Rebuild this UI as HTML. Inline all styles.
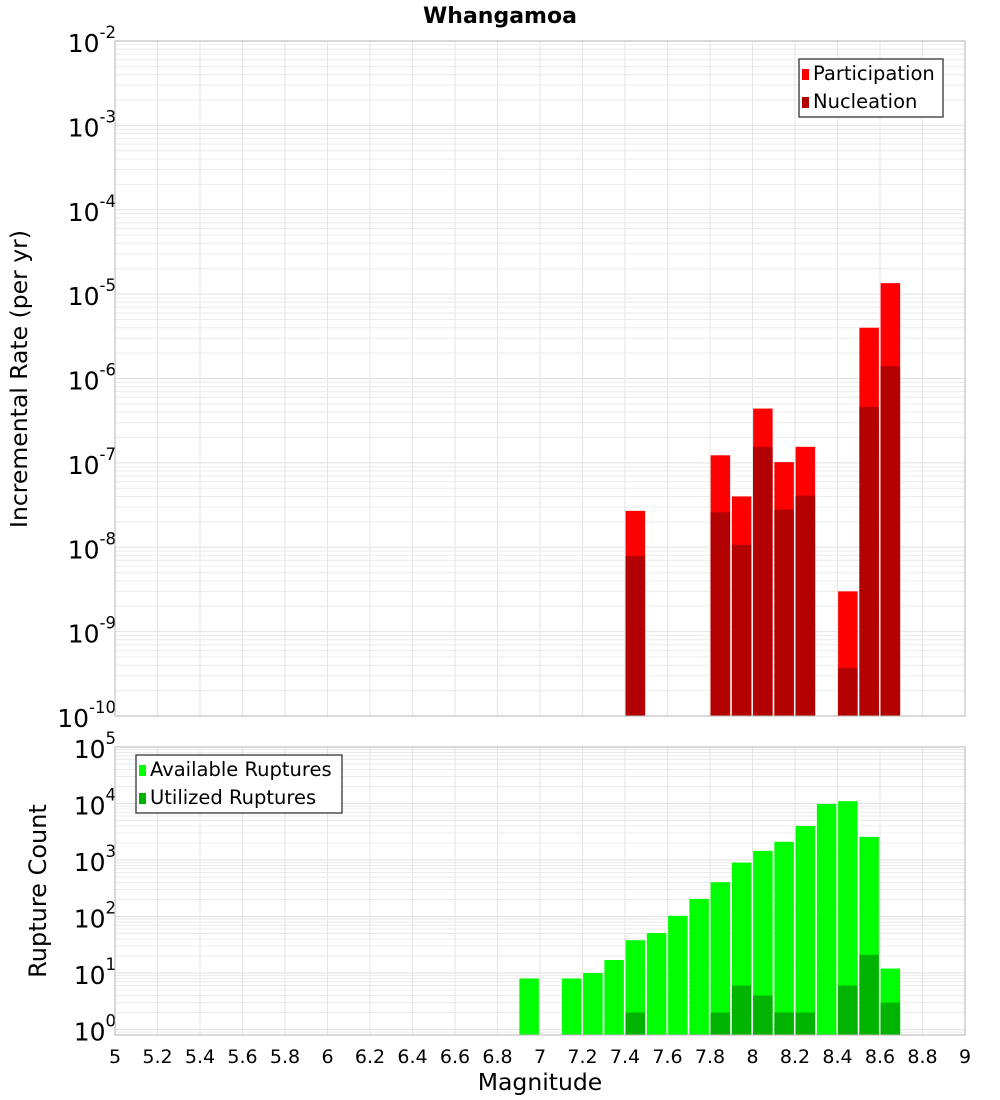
<!DOCTYPE html>
<html><head><meta charset="utf-8"><style>
body{margin:0;background:#fff;}
svg{display:block;font-family:"DejaVu Sans","Liberation Sans",sans-serif;}
</style></head><body>
<svg id="chart" width="1000" height="1100" xmlns="http://www.w3.org/2000/svg">
<text x="500" y="23" text-anchor="middle" font-size="22" font-weight="bold">Whangamoa</text>
<g id="gtop"></g><g id="gbot"></g>
<text transform="translate(27,379) rotate(-90)" text-anchor="middle" font-size="23.5">Incremental Rate (per yr)</text>
<text transform="translate(46,891) rotate(-90)" text-anchor="middle" font-size="24">Rupture Count</text>
<text x="540" y="1090" text-anchor="middle" font-size="23.5">Magnitude</text>
</svg>
<script>
const mags = [6.95,7.15,7.25,7.35,7.45,7.55,7.65,7.75,7.85,7.95,8.05,8.15,8.25,8.35,8.45,8.55,8.65];
const available = [8,8,10,17,38,51,103,205,405,900,1450,2100,4000,9800,11000,2570,12];
const utilized = [0,0,0,0,2,0,0,0,2,6,4,2,2,0,6,21,3];
const rateMags = [7.45,7.85,7.95,8.05,8.15,8.25,8.45,8.55,8.65];
const participation = [2.7e-8,1.23e-7,4e-8,4.4e-7,1.02e-7,1.55e-7,3e-9,4e-6,1.35e-5];
const nucleation = [7.9e-9,2.6e-8,1.07e-8,1.55e-7,2.8e-8,4.1e-8,3.7e-10,4.6e-7,1.4e-6];
const xTicks = [5,5.2,5.4,5.6,5.8,6,6.2,6.4,6.6,6.8,7,7.2,7.4,7.6,7.8,8,8.2,8.4,8.6,8.8,9];

const NS="http://www.w3.org/2000/svg";
const X0=115,X1=965;
const xs=m=>X0+(m-5)/4*(X1-X0);
function mk(p,t,a,txt){const e=document.createElementNS(NS,t);for(const k in a)e.setAttribute(k,a[k]);if(txt!==undefined)e.textContent=txt;p.appendChild(e);return e;}
function panel(g,y0,y1,lmin,lmax,name){
  const ys=v=>y1-(Math.log10(v)-lmin)/(lmax-lmin)*(y1-y0);
  for(let d=Math.floor(lmin);d<lmax;d++)for(let k=1;k<10;k++){const v=k*Math.pow(10,d);if(Math.log10(v)<lmin||Math.log10(v)>lmax)continue;const y=ys(v);
    const l=mk(g,'line',{x1:X0,x2:X1,y1:y,y2:y,stroke:k==1?'#e2e2e2':'#ececec','stroke-width':1});
    }
  xTicks.forEach(t=>{const x=xs(t);const l=mk(g,'line',{x1:x,x2:x,y1:y0,y2:y1,stroke:'#e6e6e6'});
    });
  for(let d=Math.ceil(lmin);d<=lmax;d++){const y=ys(Math.pow(10,d));
    const t=mk(g,'text',{x:116,y:y+11,'text-anchor':'end','font-size':25});
    
    mk(t,'tspan',{},'10');mk(t,'tspan',{dy:-14,'font-size':16.5},String(d));}
  return ys;
}
const gTop=document.getElementById('gtop'),gBot=document.getElementById('gbot');
const ysT=panel(gTop,41,716,-10,-2,'top');
rateMags.forEach((m,i)=>{const x=xs(m)-10;
  const r=mk(gTop,'rect',{x:x,width:19.5,y:ysT(participation[i]),height:716-ysT(participation[i]),fill:'#ff0000'});
  
  
  const n=mk(gTop,'rect',{x:x,width:19.5,y:ysT(nucleation[i]),height:716-ysT(nucleation[i]),fill:'#b30000'});
  
  });
const fT=mk(gTop,'rect',{x:X0,y:41,width:X1-X0,height:675,fill:'none',stroke:'#b5b5b5'});


const ysB=panel(gBot,747,1035,Math.log10(0.8),5,'bottom');
mags.forEach((m,i)=>{const x=xs(m)-10;
  const r=mk(gBot,'rect',{x:x,width:19.5,y:ysB(available[i]),height:1035-ysB(available[i]),fill:'#00ff00'});
  
  
  if(utilized[i]>0){const n=mk(gBot,'rect',{x:x,width:19.5,y:ysB(utilized[i]),height:1035-ysB(utilized[i]),fill:'#00b300'});
  
  }});
const fB=mk(gBot,'rect',{x:X0,y:747,width:X1-X0,height:288,fill:'none',stroke:'#b5b5b5'});


xTicks.forEach(t=>{const e=mk(gBot,'text',{x:xs(t),y:1063,'text-anchor':'middle','font-size':19},String(t));
  
  });
function legend(g,x,y,w,items,name){
  const b=mk(g,'rect',{x:x,y:y,width:w,height:58,fill:'#fff',stroke:'#333','stroke-width':1.3});
  
  
  items.forEach((it,i)=>{const s=mk(g,'rect',{x:x+3,y:y+10+i*28,width:7,height:11,fill:it[1]});
    
    
    const t=mk(g,'text',{x:x+14,y:y+21+i*28,'font-size':19.5},it[0]);
    
    });
}
legend(gTop,799,59,144,[['Participation','#ff0000'],['Nucleation','#b30000']],'top-legend');
legend(gBot,136,755,206,[['Available Ruptures','#00ff00'],['Utilized Ruptures','#00b300']],'bottom-legend');
</script>
</body></html>
